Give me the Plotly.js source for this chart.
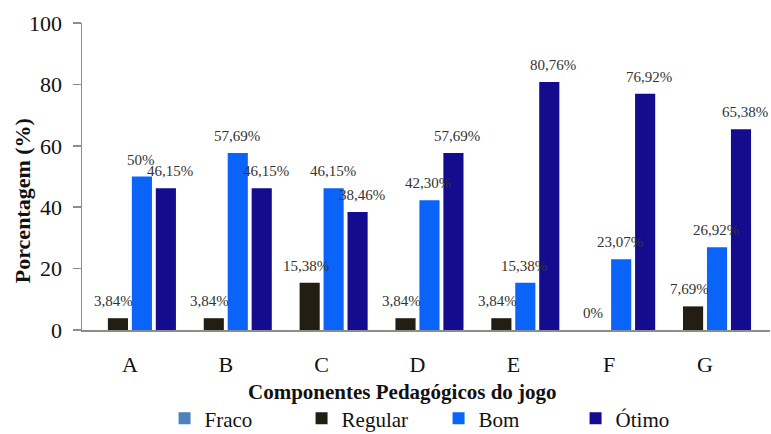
<!DOCTYPE html>
<html>
<head>
<meta charset="utf-8">
<script src="https://cdn.plot.ly/plotly-3.0.1.min.js"></script>
<style>html,body{margin:0;padding:0;background:#fff;}#chart{width:771px;height:434px;}</style>
</head>
<body>
<div id="chart"></div>
<script>
const categories = ["A", "B", "C", "D", "E", "F", "G"];
const seriesNames = ["Fraco", "Regular", "Bom", "Ótimo"];
const fraco = [0, 0, 0, 0, 0, 0, 0];
const regular = [3.84, 3.84, 15.38, 3.84, 3.84, 0, 7.69];
const bom = [50, 57.69, 46.15, 42.30, 15.38, 23.07, 26.92];
const otimo = [46.15, 46.15, 38.46, 57.69, 80.76, 76.92, 65.38];
const regularLabels = ["3,84%", "3,84%", "15,38%", "3,84%", "3,84%", "0%", "7,69%"];
const bomLabels = ["50%", "57,69%", "46,15%", "42,30%", "15,38%", "23,07%", "26,92%"];
const otimoLabels = ["46,15%", "46,15%", "38,46%", "57,69%", "80,76%", "76,92%", "65,38%"];
const yTickValues = [0, 20, 40, 60, 80, 100];
const xTitle = "Componentes Pedagógicos do jogo";
const yTitle = "Porcentagem (%)";

const FONT = "Liberation Serif";
const colors = ["#4F81BD", "#221E14", "#0A64FA", "#140C8E"];
const seriesValues = [fraco, regular, bom, otimo];

const traces = seriesValues.map((vals, k) => ({
  type: "bar",
  name: seriesNames[k],
  x: categories,
  y: vals,
  marker: {color: colors[k], line: {width: 0}},
  hoverinfo: "skip"
}));

// data labels above bars (position from data values via axis scales)
const labelSets = [[regular, regularLabels, -0.125, -4], [bom, bomLabels, 0.125, -1], [otimo, otimoLabels, 0.375, 4]];
const annotations = [];
labelSets.forEach(([vals, labs, off, xs]) => {
  vals.forEach((v, i) => {
    annotations.push({
      x: i + off, y: v, xref: "x", yref: "y",
      text: labs[i], showarrow: false,
      xanchor: "center", yanchor: "middle",
      xshift: xs, yshift: 17,
      font: {family: FONT, size: 15, color: "#333333"}
    });
  });
});
annotations.push({
  text: "<b>" + xTitle + "</b>", xref: "paper", yref: "paper",
  x: 0.466, y: -0.202, xanchor: "center", yanchor: "middle", showarrow: false,
  font: {family: FONT, size: 21, color: "#111"}
});
annotations.push({
  text: "<b>" + yTitle + "</b>", xref: "paper", yref: "paper",
  x: -0.087, y: 0.42, xanchor: "center", yanchor: "middle", showarrow: false,
  textangle: -90,
  font: {family: FONT, size: 22, color: "#111"}
});

const layout = {
  width: 771, height: 434,
  font: {family: FONT, color: "#111"},
  margin: {l: 82, r: 1, t: 23, b: 104, autoexpand: false},
  paper_bgcolor: "#fff", plot_bgcolor: "#fff",
  barmode: "group", bargap: 0, bargroupgap: 0.16,
  showlegend: true,
  legend: {
    orientation: "h", x: 0.12, xanchor: "left", y: -0.222, yanchor: "top",
    font: {family: FONT, size: 21, color: "#111"},
    itemwidth: 30, entrywidth: 92, tracegroupgap: 0
  },
  xaxis: {
    type: "category",
    showline: true, linecolor: "#8c8c8c", linewidth: 2,
    ticks: "", showgrid: false, zeroline: false,
    ticklabelstandoff: 14,
    tickfont: {family: FONT, size: 22, color: "#111"}
  },
  yaxis: {
    range: [0, 100], tickvals: yTickValues,
    showline: true, linecolor: "#8c8c8c", linewidth: 1.5,
    ticks: "outside", ticklen: 8, tickcolor: "#8c8c8c", tickwidth: 1.5,
    showgrid: false, zeroline: false,
    ticklabelstandoff: 6,
    tickfont: {family: FONT, size: 22, color: "#111"}
  },
  annotations: annotations
};

Plotly.newPlot("chart", traces, layout, {displayModeBar: false, staticPlot: true});
</script>
</body>
</html>
